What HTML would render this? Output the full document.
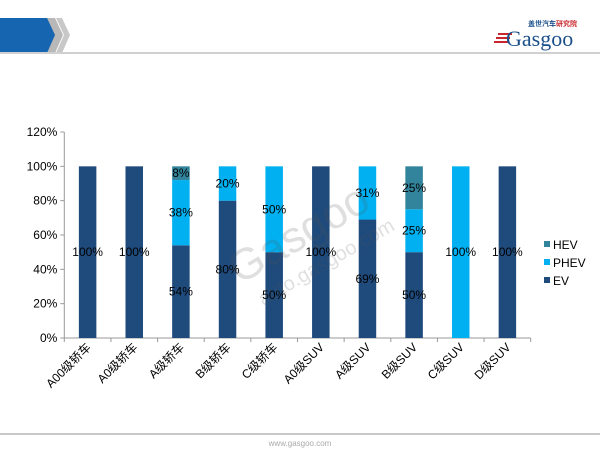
<!DOCTYPE html>
<html><head><meta charset="utf-8"><style>
body{margin:0;width:600px;height:450px;background:#fff;overflow:hidden;font-family:"Liberation Sans","Noto Sans CJK SC",sans-serif}
svg{display:block}
</style></head><body>
<svg id="c" width="600" height="450" xmlns="http://www.w3.org/2000/svg">
<g>
<polygon points="0,18 52,18 58,35 52,53 0,53" fill="#1565b0"/>
<polygon points="47,18 55,18 63,35 55,53 47,53 55,35" fill="#b8b8b8"/>
<polygon points="56,18 62,18 70,35 62,53 56,53 64,35" fill="#c8c8c8"/>
<rect x="0" y="52" width="600" height="2" fill="#d0d0d0"/>
<g>
<rect x="498" y="33" width="14" height="2" fill="#c8282d"/><rect x="496" y="37" width="14" height="2" fill="#c8282d"/><rect x="494" y="41" width="14" height="2" fill="#c8282d"/>
<text x="506" y="46" font-family="Liberation Serif,serif" font-size="22" fill="#1a4f8a">Gasgoo</text>
<text x="528" y="26" font-size="7" fill="#1a4f8a" font-weight="bold">盖世汽车<tspan fill="#c8282d">研究院</tspan></text>
</g>
</g>
<g id="plot"></g>
<g opacity="0.18" transform="rotate(-30 300 250)">
<text x="230" y="250" font-size="44" fill="#555">Gasgoo</text>
<text x="240" y="280" font-size="20" fill="#555">auto.gasgoo.com</text>
</g>
<rect x="0" y="433" width="600" height="2" fill="#c8c8c8"/>
<text x="300" y="446" font-size="8" fill="#aaa" text-anchor="middle">www.gasgoo.com</text>
</svg>
<script>
const categories=["A00级轿车","A0级轿车","A级轿车","B级轿车","C级轿车","A0级SUV","A级SUV","B级SUV","C级SUV","D级SUV"];
const ev=[100,100,54,80,50,100,69,50,0,100];
const phev=[0,0,38,20,50,0,31,25,100,0];
const hev=[0,0,8,0,0,0,0,25,0,0];
const yTicks=[0,20,40,60,80,100,120];
const seriesNames=["HEV","PHEV","EV"];
const NS="http://www.w3.org/2000/svg";
const g=document.getElementById('plot');
const x0=64.3,x1=530.7,y0=338,yTop=132,ymax=120;
const bw=(x1-x0)/categories.length;
const ys=v=>y0-(v/ymax)*(y0-yTop);
const xc=i=>x0+bw*(i+0.5);
function mk(t,a){const e=document.createElementNS(NS,t);for(const k in a)e.setAttribute(k,a[k]);g.appendChild(e);return e;}
let ax=mk('line',{x1:x0,y1:yTop,x2:x0,y2:y0,stroke:'#999'});


yTicks.forEach(v=>{
 const t=mk('line',{x1:x0-4,x2:x0,y1:ys(v),y2:ys(v),stroke:'#999'});
 
 
 const l=mk('text',{x:x0-7,y:ys(v)+4,'font-size':12,'text-anchor':'end',fill:'#000'});
 l.textContent=v+'%';
 
 
});
let xa=mk('line',{x1:x0,y1:y0,x2:x1,y2:y0,stroke:'#999'});


for(let i=0;i<=categories.length;i++){
 const t=mk('line',{x1:x0+bw*i,x2:x0+bw*i,y1:y0,y2:y0+4,stroke:'#999'});
 
 
}
const cols={EV:'#1f4a7c',PHEV:'#00b0f0',HEV:'#31849b'};
const bwid=17.5;
categories.forEach((c,i)=>{
 let base=0;
 [['EV',ev],['PHEV',phev],['HEV',hev]].forEach(([n,arr])=>{
  const v=arr[i]; if(!v)return;
  const r=mk('rect',{x:xc(i)-bwid/2,y:ys(base+v),width:bwid,height:ys(base)-ys(base+v),fill:cols[n]});
  
  
  const l=mk('text',{x:xc(i),y:(ys(base)+ys(base+v))/2+4,'font-size':12,'text-anchor':'middle',fill:'#000'});
  l.textContent=v+'%';
  
  
  base+=v;
 });
 const cl=mk('text',{x:0,y:0,'font-size':12,'text-anchor':'end',fill:'#000',transform:`translate(${xc(i)+4},${y0+10}) rotate(-45)`});
 cl.textContent=c;
 
 
});
seriesNames.forEach((n,k)=>{
 const y=246+k*18;
 const s=mk('rect',{x:544,y:y-5,width:6,height:6,fill:cols[n]});
 
 
 const t=mk('text',{x:553,y:y+3,'font-size':12,fill:'#000'});
 t.textContent=n;
 
 
});
</script>
</body></html>
